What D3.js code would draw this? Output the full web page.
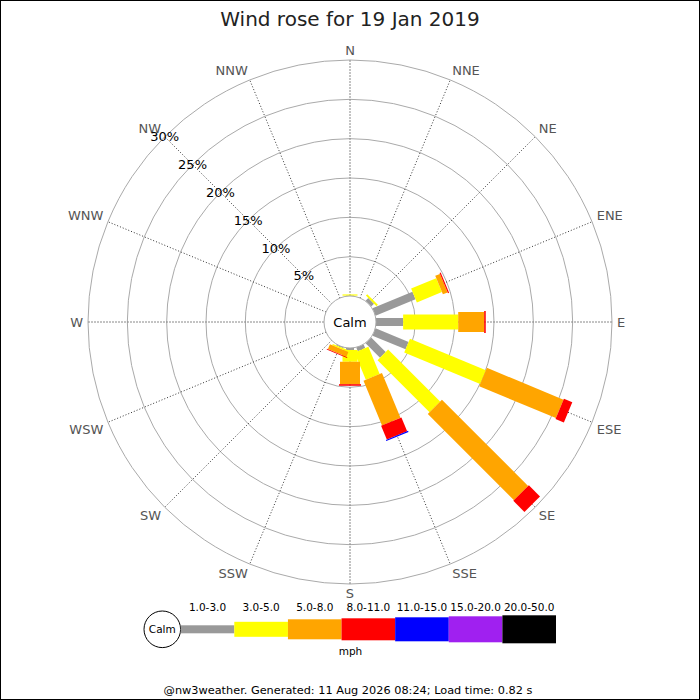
<!DOCTYPE html>
<html>
<head>
<meta charset="utf-8">
<script src="https://cdn.jsdelivr.net/npm/d3@7"></script>
<style>
  body { margin: 0; background: #fff; }
  text { font-family: "DejaVu Sans", sans-serif; }
</style>
</head>
<body>
<script>
var directions = ['N', 'NNE', 'NE', 'ENE', 'E', 'ESE', 'SE', 'SSE',
                  'S', 'SSW', 'SW', 'WSW', 'W', 'WNW', 'NW', 'NNW'];
var speedClasses = ['1.0-3.0', '3.0-5.0', '5.0-8.0', '8.0-11.0', '11.0-15.0', '15.0-20.0', '20.0-50.0'];
var classColors = ['#999999', '#ffff00', '#ffa500', '#ff0000', '#0000ff', '#a020f0', '#000000'];
// percent of time per direction, one array per speed class
var speed1to3   = [0.05, 0, 0.5, 5.5, 3.45, 4.55, 2.6, 0.5, 0.25, 0.1, 0, 0, 0, 0, 0, 0];
var speed3to5   = [0.15, 0, 0.25, 3.45, 7.0, 10.45, 9.35, 3.75, 1.5, 0.2, 0, 0, 0, 0, 0, 0];
var speed5to8   = [0, 0, 0, 0.65, 3.3, 10.55, 15.5, 6.15, 2.85, 0.65, 0, 0, 0, 0, 0, 0];
var speed8to11  = [0, 0, 0, 0.15, 0.2, 1.15, 2.0, 1.9, 0.2, 0.12, 0, 0, 0, 0, 0, 0];
var speed11to15 = [0, 0, 0, 0, 0, 0, 0, 0.15, 0, 0, 0, 0, 0, 0, 0, 0];
var speed15to20 = [0, 0, 0, 0, 0, 0, 0, 0, 0, 0, 0, 0, 0, 0, 0, 0];
var speed20to50 = [0, 0, 0, 0, 0, 0, 0, 0, 0, 0, 0, 0, 0, 0, 0, 0];
var series = [speed1to3, speed3to5, speed5to8, speed8to11, speed11to15, speed15to20, speed20to50];
var ringTicks = [5, 10, 15, 20, 25, 30];

var width = 700, height = 700;
var cx = 350, cy = 322;
var calmR = 26, outerR = 262;
var barWidths = [8, 15, 20, 22, 24, 26, 28];

var svg = d3.select('body')
            .append('svg')
            .attr('width', width)
            .attr('height', height);

svg.append('rect')
    .attr('x', 0.5).attr('y', 0.5)
    .attr('width', width - 1).attr('height', height - 1)
    .attr('fill', '#fff')
    .attr('stroke', '#000');

var r = d3.scaleLinear().domain([0, 30]).range([calmR, outerR]);
var angle = d3.scaleLinear().domain([0, 16]).range([0, 360]);

function px(a, rad) { return cx + rad * Math.sin(a * Math.PI / 180); }
function py(a, rad) { return cy - rad * Math.cos(a * Math.PI / 180); }

svg.append('text')
    .attr('x', cx).attr('y', 26)
    .attr('text-anchor', 'middle')
    .attr('font-size', 20)
    .attr('fill', '#222')
    .text('Wind rose for 19 Jan 2019');

// rings
svg.selectAll('circle.ring')
    .data(ringTicks)
    .enter()
    .append('circle')
    .attr('class', 'ring')
    .attr('cx', cx).attr('cy', cy)
    .attr('r', function (d) { return r(d); })
    .attr('fill', 'none')
    .attr('stroke', '#aaa');

// spokes
svg.selectAll('line.spoke')
    .data(directions)
    .enter()
    .append('line')
    .attr('class', 'spoke')
    .attr('x1', function (d, i) { return px(angle(i), calmR); })
    .attr('y1', function (d, i) { return py(angle(i), calmR); })
    .attr('x2', function (d, i) { return px(angle(i), outerR); })
    .attr('y2', function (d, i) { return py(angle(i), outerR); })
    .attr('stroke', function (d, i) { return i % 4 === 0 ? '#888' : '#333'; })
    .attr('stroke-dasharray', function (d, i) { return i % 4 === 0 ? '2,1' : '1,2'; });

// direction labels
var labelR = 267;
svg.selectAll('text.dir')
    .data(directions)
    .enter()
    .append('text')
    .attr('class', 'dir')
    .attr('x', function (d, i) { return px(angle(i), labelR); })
    .attr('y', function (d, i) { return py(angle(i), labelR); })
    .attr('text-anchor', function (d, i) {
        var s = Math.sin(angle(i) * Math.PI / 180);
        return Math.abs(s) < 0.01 ? 'middle' : (s > 0 ? 'start' : 'end');
    })
    .attr('dy', function (d, i) {
        var c = Math.cos(angle(i) * Math.PI / 180);
        return Math.abs(c) < 0.01 ? '0.36em' : (c > 0 ? '0' : '0.73em');
    })
    .attr('font-size', 13)
    .attr('fill', '#555')
    .text(function (d) { return d; });

// bars
var dirGroups = svg.selectAll('g.dir')
    .data(directions)
    .enter()
    .append('g')
    .attr('class', 'dir')
    .attr('transform', function (d, i) {
        return 'translate(' + cx + ',' + cy + ') rotate(' + angle(i) + ')';
    });

dirGroups.each(function (d, i) {
    var g = d3.select(this);
    var cum = 0;
    var segs = [];
    series.forEach(function (s, j) {
        if (s[i] > 0) segs.push({ start: cum, end: cum + s[i], cls: j });
        cum += s[i];
    });
    g.selectAll('rect')
        .data(segs)
        .enter()
        .append('rect')
        .attr('x', function (s) { return -barWidths[s.cls] / 2; })
        .attr('y', function (s) { return -r(s.end); })
        .attr('width', function (s) { return barWidths[s.cls]; })
        .attr('height', function (s) { return r(s.end) - r(s.start); })
        .attr('fill', function (s) { return classColors[s.cls]; });
});

// percent labels along NW
svg.selectAll('text.pct')
    .data(ringTicks)
    .enter()
    .append('text')
    .attr('class', 'pct')
    .attr('x', function (d) { return px(-45, r(d)); })
    .attr('y', function (d) { return py(-45, r(d)); })
    .attr('dy', '0.36em')
    .attr('text-anchor', 'middle')
    .attr('font-size', 13)
    .attr('fill', '#000')
    .text(function (d) { return d + '%'; });

// calm circle
svg.append('circle')
    .attr('cx', cx).attr('cy', cy).attr('r', calmR)
    .attr('fill', '#fff')
    .attr('stroke', '#aaa');
svg.append('text')
    .attr('x', cx).attr('y', cy)
    .attr('dy', '0.36em')
    .attr('text-anchor', 'middle')
    .attr('font-size', 13)
    .text('Calm');

// legend
var legendY = 629.3;
var legendX = d3.scaleBand()
    .domain(speedClasses)
    .range([180.7, 556])
    .padding(0);

svg.append('circle')
    .attr('cx', 162.3).attr('cy', legendY).attr('r', 18.3)
    .attr('fill', '#fff')
    .attr('stroke', '#000');
svg.append('text')
    .attr('x', 162.3).attr('y', legendY)
    .attr('dy', '0.36em')
    .attr('text-anchor', 'middle')
    .attr('font-size', 10.5)
    .text('Calm');

svg.selectAll('rect.legend')
    .data(speedClasses)
    .enter()
    .append('rect')
    .attr('class', 'legend')
    .attr('x', function (d) { return legendX(d); })
    .attr('y', function (d, i) { return legendY - barWidths[i] / 2; })
    .attr('width', legendX.bandwidth())
    .attr('height', function (d, i) { return barWidths[i]; })
    .attr('fill', function (d, i) { return classColors[i]; });

svg.selectAll('text.legend')
    .data(speedClasses)
    .enter()
    .append('text')
    .attr('class', 'legend')
    .attr('x', function (d) { return legendX(d) + legendX.bandwidth() / 2; })
    .attr('y', 610.5)
    .attr('text-anchor', 'middle')
    .attr('font-size', 10.5)
    .text(function (d) { return d; });

svg.append('text')
    .attr('x', 350.5).attr('y', 655)
    .attr('text-anchor', 'middle')
    .attr('font-size', 10.5)
    .text('mph');

svg.append('text')
    .attr('x', 348).attr('y', 694)
    .attr('text-anchor', 'middle')
    .attr('font-size', 11.3)
    .text('@nw3weather. Generated: 11 Aug 2026 08:24; Load time: 0.82 s');
</script>
</body>
</html>
